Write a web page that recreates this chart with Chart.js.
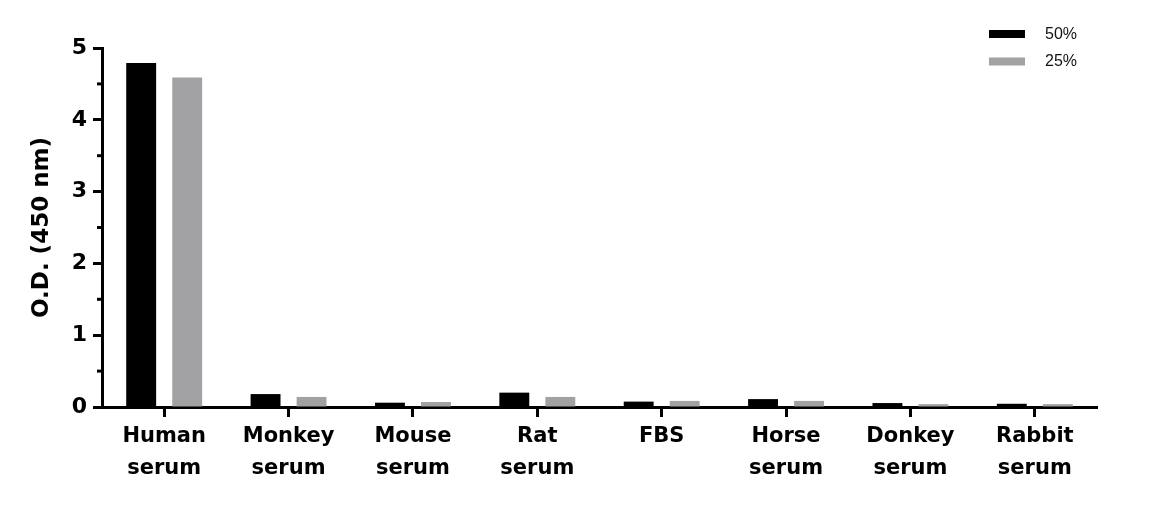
<!DOCTYPE html>
<html>
<head>
<meta charset="utf-8">
<script src="https://cdn.jsdelivr.net/npm/chart.js@4"></script>
<style>
    html, body { margin: 0; padding: 0; background: #fff; }
    #wrap { width: 1175px; height: 507px; position: relative; }
</style>
</head>
<body>
<div id="wrap"><canvas id="od-chart"></canvas></div>
<script>
// values
const categories = [
    ["Human", "serum"], ["Monkey", "serum"], ["Mouse", "serum"], ["Rat", "serum"],
    "FBS", ["Horse", "serum"], ["Donkey", "serum"], ["Rabbit", "serum"],
];
const series50 = [4.79, 0.18, 0.06, 0.2, 0.075, 0.11, 0.055, 0.045];
const series25 = [4.59, 0.14, 0.07, 0.14, 0.085, 0.085, 0.04, 0.04];
const seriesLabels = ["50%", "25%"];
const yTicks = [0, 1, 2, 3, 4, 5];
const yMinorTicks = [0.5, 1.5, 2.5, 3.5, 4.5];

const FONT = "'DejaVu Sans', sans-serif";

// minor ticks on the y axis + small legend in the top right corner
const extras = {
    id: "extras",
    afterDraw(chart) {
        const ctx = chart.ctx;
        const y = chart.scales.y;
        const left = chart.chartArea.left;
        ctx.save();
        ctx.strokeStyle = "#000";
        ctx.lineWidth = 3;
        yMinorTicks.forEach((v) => {
            const py = y.getPixelForValue(v);
            ctx.beginPath();
            ctx.moveTo(left - 5, py);
            ctx.lineTo(left, py);
            ctx.stroke();
        });

        chart.data.datasets.forEach((ds, i) => {
            const top = 30 + i * 27.5;
            ctx.fillStyle = ds.backgroundColor;
            ctx.fillRect(989, top, 36, 8);
            ctx.fillStyle = "#111";
            ctx.font = "16px 'Liberation Sans', Arial, sans-serif";
            ctx.textBaseline = "middle";
            ctx.fillText(ds.label, 1045, top + 4.5);
        });
        ctx.restore();
    },
};

const ctx = document.getElementById("od-chart").getContext("2d");
const myChart = new Chart(ctx, {
    type: "bar",
    data: {
        labels: categories,
        datasets: [
            {
                label: seriesLabels[0],
                data: series50,
                backgroundColor: "#000000",
            },
            {
                label: seriesLabels[1],
                data: series25,
                backgroundColor: "#a2a2a5",
            },
        ],
    },
    options: {
        responsive: true,
        maintainAspectRatio: false,
        animation: false,
        categoryPercentage: 0.74,
        barPercentage: 0.65,
        layout: {
            padding: { left: 24, right: 78, top: 48, bottom: 0 },
        },
        scales: {
            x: {
                afterFit: (scale) => {
                    scale.height = 100;
                },
                border: { display: true, color: "#000", width: 3 },
                grid: {
                    offset: false,
                    drawOnChartArea: false,
                    drawTicks: true,
                    tickLength: 10,
                    tickWidth: 3,
                    tickColor: "#000",
                },
                ticks: {
                    color: "#000",
                    padding: 4,
                    maxRotation: 0,
                    font: { family: FONT, size: 21, weight: "bold", lineHeight: 1.5 },
                },
            },
            y: {
                min: 0,
                max: 5,
                afterFit: (scale) => {
                    scale.width = 78;
                },
                afterBuildTicks: (scale) => {
                    scale.ticks = yTicks.map((v) => ({ value: v }));
                },
                border: { display: true, color: "#000", width: 3 },
                grid: {
                    drawOnChartArea: false,
                    drawTicks: true,
                    tickLength: 9,
                    tickWidth: 3,
                    tickColor: "#000",
                },
                ticks: {
                    color: "#000",
                    padding: 6,
                    font: { family: FONT, size: 22, weight: "bold" },
                },
                title: {
                    display: true,
                    text: "O.D. (450 nm)",
                    color: "#000",
                    padding: { top: 4, bottom: 0 },
                    font: { family: FONT, size: 23, weight: "bold" },
                },
            },
        },
        plugins: {
            legend: { display: false },
            tooltip: { enabled: false },
        },
    },
    plugins: [extras],
});
</script>
</body>
</html>
